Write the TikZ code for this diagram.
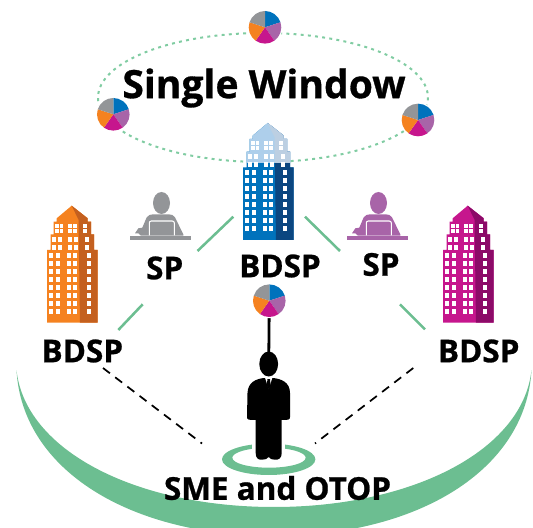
\documentclass[tikz,border=0pt]{standalone}
\usepackage{fontspec}
\setmainfont{Open Sans}[BoldFeatures={FakeBold=0.8}]
\definecolor{grn}{HTML}{6CBE91}
\definecolor{dotgrn}{HTML}{80CCA2}
\definecolor{pblue}{HTML}{0072BC}
\definecolor{bdark}{HTML}{0B4680}
\definecolor{blight}{HTML}{AECFEB}
\definecolor{bldark}{HTML}{BCCFE2}
\definecolor{ppurple}{HTML}{A864A8}
\definecolor{pmag}{HTML}{C6168D}
\definecolor{mdark}{HTML}{8C0A68}
\definecolor{porange}{HTML}{F58220}
\definecolor{odark}{HTML}{C4601F}
\definecolor{pgrey}{HTML}{939598}
\tikzset{
  lbl/.style={font=\bfseries\fontsize{23.6}{25}\selectfont,inner sep=0pt,text=black},
  link/.style={draw=grn,line width=1.9pt},
  dashlink/.style={draw=black,line width=1.3pt,dash pattern=on 6.5pt off 5pt},
}
\newcommand{\towerbody}[2]{%
  \fill[#1] (0,0)--(50.7,0)--(50.7,-72.7)--(47,-72.7)--(47,-88.4)--(44,-88.4)--(44,-101)--(40.7,-101)--(40.7,-104.4)--(24.7,-117)--(9.7,-104.4)--(9.7,-101)--(6.7,-101)--(6.7,-88.4)--(3.7,-88.4)--(3.7,-72.7)--(0,-72.7)--cycle;
  \fill[#2] (33,0)--(50.7,0)--(50.7,-72.7)--(47,-72.7)--(47,-88.4)--(44,-88.4)--(44,-101)--(40.7,-101)--(40.7,-104.4)--(24.7,-117)--(31.5,-103)--cycle;
  \foreach \r in {0,...,7}{
    \foreach \c in {2,8.7,20,26.3}{\fill[white] (\c,-70+8*\r) rectangle ++(4,5.3);}
    \fill[white] (39.7,-70+8*\r) rectangle ++(4.7,5.3);
  }
  \foreach \r in {-86,-78}{
    \foreach \c in {5,10.7,21,27}{\fill[white] (\c,\r) rectangle ++(4,5);}
    \fill[white] (37.7,\r) rectangle ++(4.7,5);
  }
  \foreach \r in {-98.7,-93.7}{
    \foreach \c in {8,12.7,21.3,26}{\fill[white] (\c,\r) rectangle ++(3.6,4.2);}
    \fill[white] (35.7,\r) rectangle ++(4,4.2);
  }
}
\newcommand{\tower}[4]{\begin{scope}[shift={(#1,#2)}]\towerbody{#3}{#4}\end{scope}}
\newcommand{\pie}[1]{%
  \begin{scope}[shift={(#1)},x=.75pt,y=.75pt]
    \fill[white] (0,0) circle (17.5);
    \fill[pblue] (0,0)--(90:16.3) arc (90:18:16.3)--cycle;
    \fill[ppurple] (0,0)--(18:16.3) arc (18:-55:16.3)--cycle;
    \fill[pmag] (0,0)--(-55:16.3) arc (-55:-125:16.3)--cycle;
    \fill[porange] (0,0)--(-125:16.3) arc (-125:-198:16.3)--cycle;
    \fill[pgrey] (0,0)--(162:16.3) arc (162:90:16.3)--cycle;
  \end{scope}}
\newcommand{\worker}[3]{%
  \begin{scope}[shift={(#1,#2)}]
    \fill[#3] (0,-4.3) rectangle (60.7,0);
    \fill[#3] (31.5,-37) ellipse [x radius=8.5,y radius=11];
    \fill[#3] (5,-6.7)--(8.3,-11.7)--(12.3,-12.3)--(16.7,-22.7) .. controls (18,-25) and (21,-25.7) .. (23.3,-25.7)--(38.3,-25.7) .. controls (41,-25.7) and (44,-25) .. (45,-22.7)--(53.3,-5.7)--(53.3,-4.3)--(11,-4.3) .. controls (10,-7) and (7,-7) .. (5,-6.7)--cycle;
    \draw[white,line width=.8pt,rounded corners=1.5pt] (19.3,-4.5)--(19.3,-19)--(44.3,-19)--(44.3,-4.5);
  \end{scope}}
\begin{document}
\begin{tikzpicture}[x=.75pt,y=-.75pt]
\useasboundingbox (0,0) rectangle (533,528);
% base crescent
\begin{scope}
  \clip (0,360) rectangle (533,528);
  \fill[grn] (16.5,370) .. controls (22,470) and (130,536) .. (274,536) .. controls (418,536) and (526,470) .. (531.5,370) .. controls (523,450) and (413,507) .. (274,507) .. controls (135,507) and (25,450) .. (16.5,370) -- cycle;
\end{scope}
% dotted ring
\draw[dotgrn,line width=1.5pt,dash pattern=on 2.2pt off 3.2pt] (263,97.5) ellipse [x radius=165,y radius=64.5];
% named anchors
\coordinate (pieT) at (265,27.3);
\coordinate (pieL) at (113.3,114.3);
\coordinate (pieR) at (418,120);
\coordinate (pieM) at (269.3,300.7);
\coordinate (head) at (268.7,364);
\coordinate (a1) at (233.3,216.7); \coordinate (a2) at (197.5,251);
\coordinate (b1) at (305,216.7); \coordinate (b2) at (340,251);
\coordinate (c1) at (142.7,304.3); \coordinate (c2) at (118.3,330);
\coordinate (d1) at (400,304.3); \coordinate (d2) at (425,329.3);
\coordinate (e1) at (103,368); \coordinate (e2) at (202,443.5);
\coordinate (f1) at (413.3,368); \coordinate (f2) at (315,443.5);
% towers
\tower{47}{322.7}{porange}{odark}
\tower{443}{322.7}{pmag}{mdark}
\tower{243}{240}{pblue}{bdark}
\begin{scope}
  \clip (230,115) rectangle (300,163);
  \tower{243}{240}{blight}{bldark}
\end{scope}
% workers
\worker{130}{240}{pgrey}
\worker{347}{240}{ppurple}
% connectors
\draw[link] (a1)--(a2);
\draw[link] (b1)--(b2);
\draw[link] (c1)--(c2);
\draw[link] (d1)--(d2);
\draw[dashlink] (e1)--(e2);
\draw[dashlink] (f1)--(f2);
% ring under the person
\fill[grn,even odd rule] (268.7,459.3) ellipse [x radius=46.7,y radius=15.7] (269,457.7) ellipse [x radius=36.7,y radius=10];
\fill[white] (252,441) rectangle (285,449);
% person
\draw[black,line width=2.1pt] (pieM)--(head);
\fill[black] (head) ellipse [x radius=9.4,y radius=12.5];
\fill[black] (264,378) .. controls (256,379) and (248,382) .. (247.5,393)--(247,417) .. controls (247,420) and (249,420) .. (255.7,420)--(255.7,453) .. controls (255.7,458) and (258,460) .. (262,459.7) .. controls (265,459.7) and (267.5,459) .. (268.7,457) .. controls (270,459) and (272,459.7) .. (275,459.7) .. controls (279,460) and (281.7,458) .. (281.7,453)--(281.7,420) .. controls (288,420) and (290,420) .. (290,417)--(290,393) .. controls (290,382) and (281,379) .. (273.5,378)--cycle;
\fill[white] (265.2,378.2)--(268.7,389)--(272.2,378.2)--cycle;
\fill[black] (267.4,379)--(270,379)--(270.6,386)--(268.7,389.5)--(266.9,386)--cycle;
% pies
\pie{pieT}\pie{pieL}\pie{pieR}\pie{pieM}
% labels
\node[font=\bfseries\fontsize{29.3}{32}\selectfont,inner sep=0pt] (win) at (264,88) {Single Window};
\node[lbl] (bdspL) at (82.3,351) {BDSP};
\node[lbl] (spL) at (164.7,268) {SP};
\node[lbl] (bdspM) at (280,266) {BDSP};
\node[lbl] (spR) at (381,264.5) {SP};
\node[lbl] (bdspR) at (478.7,351) {BDSP};
\node[lbl] (sme) at (277.5,488) {SME and OTOP};
\end{tikzpicture}
\end{document}
